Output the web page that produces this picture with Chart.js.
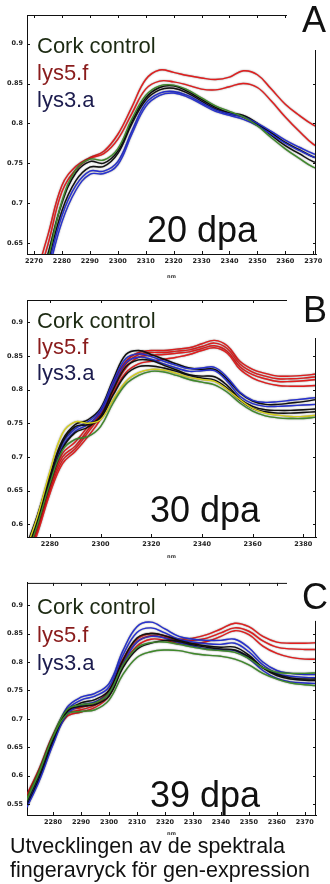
<!DOCTYPE html>
<html>
<head>
<meta charset="utf-8">
<script src="https://cdn.jsdelivr.net/npm/chart.js@4.4.1/dist/chart.umd.min.js"></script>
<style>
  body { margin: 0; background: #fff; width: 330px; height: 884px; position: relative; overflow: hidden; font-family: "Liberation Sans", Arial, sans-serif; }
  .panel { position: absolute; left: 0; width: 330px; }
  .txt { position: absolute; white-space: nowrap; color: #111; }
  .leg { font-size: 22px; line-height: 27px; }
  .dpa { font-size: 36px; line-height: 36px; }
  .letter { font-size: 36px; line-height: 36px; }
  .cork { color: #1c2a12; }
  .lys5 { color: #8a1c1c; }
  .lys3 { color: #1c1c4e; }
</style>
</head>
<body>

<div class="panel" style="top:0;height:280px"><canvas id="chartA" width="330" height="280"></canvas></div>
<div class="panel" style="top:290px;height:270px"><canvas id="chartB" width="330" height="270"></canvas></div>
<div class="panel" style="top:575px;height:262px"><canvas id="chartC" width="330" height="262"></canvas></div>

<div class="txt leg" style="left:37px;top:32px"><span class="cork">Cork control</span><br><span class="lys5">lys5.f</span><br><span class="lys3">lys3.a</span></div>
<div class="txt leg" style="left:37px;top:308px;line-height:26px"><span class="cork">Cork control</span><br><span class="lys5">lys5.f</span><br><span class="lys3">lys3.a</span></div>
<div class="txt leg" style="left:37px;top:593px;line-height:28px"><span class="cork">Cork control</span><br><span class="lys5">lys5.f</span><br><span class="lys3">lys3.a</span></div>

<div class="txt dpa" style="left:147px;top:212px">20 dpa</div>
<div class="txt dpa" style="left:150px;top:492px">30 dpa</div>
<div class="txt dpa" style="left:150px;top:777px">39 dpa</div>

<div class="txt letter" style="left:302px;top:2px">A</div>
<div class="txt letter" style="left:303px;top:292px">B</div>
<div class="txt letter" style="left:302px;top:579px">C</div>

<div class="txt" style="left:10px;top:834px;font-size:21.5px;line-height:24px">Utvecklingen av de spektrala<br>fingeravryck för gen-expression</div>

<script>
// ---------- Panel A (20 dpa) ----------
const wavelengthsA = [2270, 2275, 2280, 2285, 2290, 2295, 2300, 2305, 2310, 2315, 2320, 2325, 2330, 2335, 2340, 2345, 2350, 2355, 2360, 2365, 2370, 2375];
const redA1   = [0.600, 0.660, 0.722, 0.746, 0.757, 0.765, 0.786, 0.820, 0.855, 0.867, 0.864, 0.860, 0.857, 0.855, 0.858, 0.866, 0.861, 0.843, 0.824, 0.810, 0.798, 0.790];
const redA2   = [0.590, 0.648, 0.714, 0.742, 0.756, 0.762, 0.780, 0.812, 0.843, 0.853, 0.852, 0.848, 0.843, 0.842, 0.846, 0.850, 0.845, 0.828, 0.808, 0.790, 0.774, 0.766];
const greenA1 = [0.570, 0.630, 0.702, 0.742, 0.755, 0.754, 0.768, 0.805, 0.835, 0.847, 0.848, 0.842, 0.832, 0.822, 0.815, 0.808, 0.797, 0.782, 0.768, 0.756, 0.745, 0.740];
const blackA1 = [0.575, 0.636, 0.700, 0.738, 0.752, 0.750, 0.765, 0.802, 0.832, 0.845, 0.847, 0.840, 0.830, 0.820, 0.813, 0.810, 0.800, 0.785, 0.772, 0.762, 0.752, 0.748];
const blackA2 = [0.560, 0.625, 0.690, 0.728, 0.745, 0.746, 0.762, 0.799, 0.829, 0.842, 0.844, 0.838, 0.828, 0.818, 0.812, 0.808, 0.799, 0.788, 0.776, 0.767, 0.758, 0.754];
const blueA1  = [0.555, 0.620, 0.684, 0.722, 0.740, 0.740, 0.752, 0.790, 0.825, 0.838, 0.840, 0.835, 0.826, 0.817, 0.812, 0.808, 0.800, 0.790, 0.779, 0.770, 0.762, 0.758];
const blueA2  = [0.550, 0.612, 0.676, 0.716, 0.736, 0.737, 0.748, 0.786, 0.821, 0.835, 0.838, 0.833, 0.824, 0.815, 0.810, 0.805, 0.797, 0.786, 0.775, 0.766, 0.758, 0.754];
const xTicksA = [2270, 2280, 2290, 2300, 2310, 2320, 2330, 2340, 2350, 2360, 2370];
const yTicksA = [0.65, 0.7, 0.75, 0.8, 0.85, 0.9];

// ---------- Panel B (30 dpa) ----------
const wavelengthsB = [2270, 2275, 2280, 2285, 2290, 2295, 2300, 2305, 2310, 2315, 2320, 2325, 2330, 2335, 2340, 2345, 2350, 2355, 2360, 2365, 2370, 2375, 2380, 2385];
const redB1    = [0.550, 0.600, 0.660, 0.705, 0.722, 0.745, 0.768, 0.810, 0.842, 0.855, 0.858, 0.858, 0.860, 0.862, 0.868, 0.873, 0.865, 0.842, 0.830, 0.824, 0.820, 0.820, 0.821, 0.823];
const redB2    = [0.545, 0.595, 0.655, 0.700, 0.716, 0.740, 0.765, 0.806, 0.838, 0.852, 0.855, 0.855, 0.857, 0.859, 0.864, 0.869, 0.861, 0.838, 0.826, 0.820, 0.816, 0.816, 0.817, 0.819];
const redB3    = [0.540, 0.590, 0.650, 0.695, 0.712, 0.736, 0.762, 0.800, 0.832, 0.848, 0.851, 0.852, 0.854, 0.856, 0.861, 0.865, 0.857, 0.834, 0.822, 0.816, 0.812, 0.812, 0.813, 0.815];
const redB4    = [0.535, 0.585, 0.645, 0.690, 0.708, 0.730, 0.756, 0.795, 0.825, 0.838, 0.842, 0.845, 0.848, 0.852, 0.858, 0.862, 0.854, 0.830, 0.817, 0.810, 0.806, 0.805, 0.805, 0.806];
const blackB1  = [0.560, 0.612, 0.672, 0.725, 0.748, 0.755, 0.772, 0.815, 0.852, 0.858, 0.852, 0.845, 0.838, 0.832, 0.830, 0.830, 0.815, 0.795, 0.783, 0.778, 0.778, 0.780, 0.782, 0.785];
const blueB1   = [0.555, 0.608, 0.668, 0.720, 0.742, 0.752, 0.770, 0.812, 0.846, 0.853, 0.849, 0.842, 0.836, 0.831, 0.832, 0.833, 0.818, 0.796, 0.784, 0.781, 0.782, 0.784, 0.786, 0.788];
const blueB2   = [0.550, 0.603, 0.663, 0.715, 0.738, 0.748, 0.766, 0.806, 0.840, 0.848, 0.845, 0.838, 0.832, 0.827, 0.828, 0.828, 0.812, 0.790, 0.779, 0.775, 0.775, 0.776, 0.777, 0.778];
const blackB2  = [0.548, 0.600, 0.660, 0.712, 0.736, 0.744, 0.760, 0.800, 0.834, 0.844, 0.843, 0.836, 0.829, 0.822, 0.820, 0.819, 0.806, 0.786, 0.775, 0.770, 0.769, 0.769, 0.770, 0.771];
const blackB3  = [0.552, 0.605, 0.668, 0.722, 0.745, 0.748, 0.758, 0.792, 0.822, 0.834, 0.835, 0.832, 0.827, 0.821, 0.817, 0.814, 0.802, 0.784, 0.772, 0.767, 0.765, 0.765, 0.766, 0.767];
const yellowB1 = [0.556, 0.610, 0.678, 0.735, 0.752, 0.750, 0.755, 0.785, 0.812, 0.825, 0.830, 0.829, 0.824, 0.818, 0.815, 0.812, 0.800, 0.785, 0.772, 0.765, 0.762, 0.760, 0.760, 0.762];
const greenB1  = [0.545, 0.598, 0.660, 0.710, 0.726, 0.730, 0.745, 0.780, 0.808, 0.821, 0.827, 0.826, 0.821, 0.815, 0.811, 0.807, 0.796, 0.780, 0.768, 0.761, 0.758, 0.757, 0.757, 0.759];
const xTicksB = [2280, 2300, 2320, 2340, 2360, 2380];
const yTicksB = [0.6, 0.65, 0.7, 0.75, 0.8, 0.85, 0.9];

// ---------- Panel C (39 dpa) ----------
const wavelengthsC = [2270, 2275, 2280, 2285, 2290, 2295, 2300, 2305, 2310, 2315, 2320, 2325, 2330, 2335, 2340, 2345, 2350, 2355, 2360, 2365, 2370, 2375];
const blueC1  = [0.545, 0.600, 0.665, 0.720, 0.738, 0.745, 0.762, 0.820, 0.862, 0.870, 0.858, 0.845, 0.840, 0.838, 0.838, 0.840, 0.825, 0.800, 0.785, 0.780, 0.778, 0.778];
const blueC2  = [0.542, 0.596, 0.660, 0.715, 0.733, 0.740, 0.756, 0.812, 0.852, 0.860, 0.851, 0.840, 0.835, 0.832, 0.831, 0.833, 0.818, 0.795, 0.780, 0.775, 0.773, 0.772];
const blackC1 = [0.540, 0.594, 0.658, 0.712, 0.728, 0.734, 0.750, 0.803, 0.842, 0.850, 0.846, 0.838, 0.832, 0.828, 0.826, 0.826, 0.812, 0.790, 0.776, 0.770, 0.768, 0.767];
const blueC3  = [0.538, 0.590, 0.655, 0.708, 0.724, 0.730, 0.745, 0.796, 0.835, 0.845, 0.842, 0.834, 0.828, 0.823, 0.821, 0.820, 0.806, 0.785, 0.771, 0.765, 0.763, 0.762];
const redC1   = [0.560, 0.612, 0.672, 0.712, 0.720, 0.728, 0.750, 0.805, 0.840, 0.850, 0.846, 0.840, 0.842, 0.848, 0.858, 0.868, 0.862, 0.845, 0.835, 0.833, 0.833, 0.834];
const redC2   = [0.556, 0.608, 0.668, 0.708, 0.716, 0.724, 0.746, 0.800, 0.835, 0.846, 0.843, 0.837, 0.838, 0.842, 0.851, 0.860, 0.854, 0.837, 0.826, 0.823, 0.822, 0.822];
const redC3   = [0.552, 0.604, 0.664, 0.704, 0.712, 0.720, 0.740, 0.793, 0.828, 0.840, 0.838, 0.832, 0.832, 0.836, 0.845, 0.855, 0.848, 0.828, 0.815, 0.808, 0.805, 0.805];
const greenC1 = [0.550, 0.605, 0.668, 0.708, 0.713, 0.716, 0.733, 0.778, 0.808, 0.818, 0.821, 0.820, 0.815, 0.812, 0.810, 0.805, 0.795, 0.780, 0.770, 0.763, 0.760, 0.758];
const greenC2 = [0.553, 0.608, 0.670, 0.716, 0.725, 0.728, 0.745, 0.795, 0.825, 0.834, 0.835, 0.831, 0.826, 0.822, 0.820, 0.817, 0.806, 0.790, 0.782, 0.780, 0.780, 0.781];
const blackC2 = [0.548, 0.602, 0.664, 0.714, 0.722, 0.725, 0.740, 0.790, 0.822, 0.833, 0.838, 0.836, 0.830, 0.826, 0.823, 0.821, 0.809, 0.790, 0.778, 0.772, 0.770, 0.770];
const xTicksC = [2280, 2290, 2300, 2310, 2320, 2330, 2340, 2350, 2360, 2370];
const yTicksC = [0.55, 0.6, 0.65, 0.7, 0.75, 0.8, 0.85, 0.9];

// line colours
const RED = "#e21d1d", BLUE = "#2630d2", BLACK = "#111111", GREEN = "#3f8a2a", YELLOW = "#d8d21c";

// partial frame (top + right) and inward tick marks
const framePlugin = {
  id: "frame",
  beforeDatasetsDraw(chart) {
    // scanned look: thin dark rim round every trace
    const ctx = chart.ctx;
    ctx.save();
    ctx.shadowColor = "rgba(0,0,0,0.55)";
    ctx.shadowBlur = 1.5;
  },
  afterDatasetsDraw(chart) {
    chart.ctx.restore();
  },
  afterDraw(chart, args, opts) {
    const { ctx, chartArea: a, scales } = chart;
    ctx.save();
    ctx.strokeStyle = "#111";
    ctx.lineWidth = 1;
    ctx.beginPath();
    ctx.moveTo(a.left, a.top + 0.5);
    ctx.lineTo(opts.topEnd, a.top + 0.5);
    ctx.moveTo(a.right - 0.5, a.top + opts.rightGap);
    ctx.lineTo(a.right - 0.5, a.bottom);
    for (const t of scales.x.ticks) {
      const px = Math.round(scales.x.getPixelForValue(t.value)) + 0.5;
      ctx.moveTo(px, a.bottom);
      ctx.lineTo(px, a.bottom - 3);
      ctx.moveTo(px, a.top);
      if (px < opts.topEnd) ctx.lineTo(px, a.top + 3);
    }
    for (const t of scales.y.ticks) {
      const py = Math.round(scales.y.getPixelForValue(t.value)) + 0.5;
      ctx.moveTo(a.left, py);
      ctx.lineTo(a.left + 3, py);
      if (py > a.top + opts.rightGap) {
        ctx.moveTo(a.right, py);
        ctx.lineTo(a.right - 3, py);
      }
    }
    ctx.stroke();
    ctx.restore();
  }
};

function series(xs, ys, color) {
  return {
    data: xs.map((x, i) => ({ x: x, y: ys[i] })),
    borderColor: color,
    borderWidth: 1.4,
    pointRadius: 0,
    tension: 0.4,
    fill: false
  };
}

function makePanel(id, datasets, cfg) {
  const tickFont = { family: "DejaVu Sans", size: 6.5, weight: "bold" };
  return new Chart(document.getElementById(id), {
    type: "line",
    data: { datasets: datasets },
    plugins: [framePlugin],
    options: {
      responsive: false,
      animation: false,
      events: [],
      layout: { padding: { top: cfg.padTop, right: 14, left: 0, bottom: 0 } },
      plugins: {
        legend: { display: false },
        tooltip: { enabled: false },
        frame: { topEnd: 287, rightGap: cfg.rightGap }
      },
      scales: {
        x: {
          type: "linear",
          min: cfg.xMin,
          max: cfg.xMax,
          afterBuildTicks: s => { s.ticks = cfg.xTicks.map(v => ({ value: v })); },
          afterFit: s => { s.height = cfg.xHeight; },
          grid: { drawOnChartArea: false, drawTicks: false },
          border: { color: "#111", width: 1 },
          ticks: { color: "#222", font: tickFont, padding: 3, maxRotation: 0, autoSkip: false, callback: v => String(v) },
          title: { display: true, text: "nm", color: "#333", font: { family: "DejaVu Sans", size: 5, weight: "bold" }, padding: { top: 2, bottom: 0 } }
        },
        y: {
          min: cfg.yMin,
          max: cfg.yMax,
          afterBuildTicks: s => { s.ticks = cfg.yTicks.map(v => ({ value: v })); },
          afterFit: s => { s.width = 27; },
          grid: { drawOnChartArea: false, drawTicks: false },
          border: { color: "#111", width: 1 },
          ticks: { color: "#222", font: tickFont, padding: 4, autoSkip: false, callback: v => String(+v.toFixed(3)) }
        }
      }
    }
  });
}

makePanel("chartA", [
  series(wavelengthsA, greenA1, GREEN),
  series(wavelengthsA, blueA2, BLUE),
  series(wavelengthsA, blueA1, BLUE),
  series(wavelengthsA, blackA2, BLACK),
  series(wavelengthsA, blackA1, BLACK),
  series(wavelengthsA, redA2, RED),
  series(wavelengthsA, redA1, RED)
], { xMin: 2267.5, xMax: 2371, yMin: 0.636, yMax: 0.936, xTicks: xTicksA, yTicks: yTicksA, padTop: 15, xHeight: 26, rightGap: 35 });

makePanel("chartB", [
  series(wavelengthsB, greenB1, GREEN),
  series(wavelengthsB, yellowB1, YELLOW),
  series(wavelengthsB, blackB3, BLACK),
  series(wavelengthsB, blackB2, BLACK),
  series(wavelengthsB, blueB2, BLUE),
  series(wavelengthsB, blueB1, BLUE),
  series(wavelengthsB, blackB1, BLACK),
  series(wavelengthsB, redB4, RED),
  series(wavelengthsB, redB3, RED),
  series(wavelengthsB, redB2, RED),
  series(wavelengthsB, redB1, RED)
], { xMin: 2271, xMax: 2385, yMin: 0.581, yMax: 0.933, xTicks: xTicksB, yTicks: yTicksB, padTop: 10, xHeight: 23, rightGap: 38 });

makePanel("chartC", [
  series(wavelengthsC, greenC1, GREEN),
  series(wavelengthsC, greenC2, GREEN),
  series(wavelengthsC, blackC2, BLACK),
  series(wavelengthsC, blueC3, BLUE),
  series(wavelengthsC, blackC1, BLACK),
  series(wavelengthsC, blueC2, BLUE),
  series(wavelengthsC, blueC1, BLUE),
  series(wavelengthsC, redC3, RED),
  series(wavelengthsC, redC2, RED),
  series(wavelengthsC, redC1, RED)
], { xMin: 2270.7, xMax: 2374, yMin: 0.531, yMax: 0.939, xTicks: xTicksC, yTicks: yTicksC, padTop: 7, xHeight: 22, rightGap: 38 });
</script>
</body>
</html>
